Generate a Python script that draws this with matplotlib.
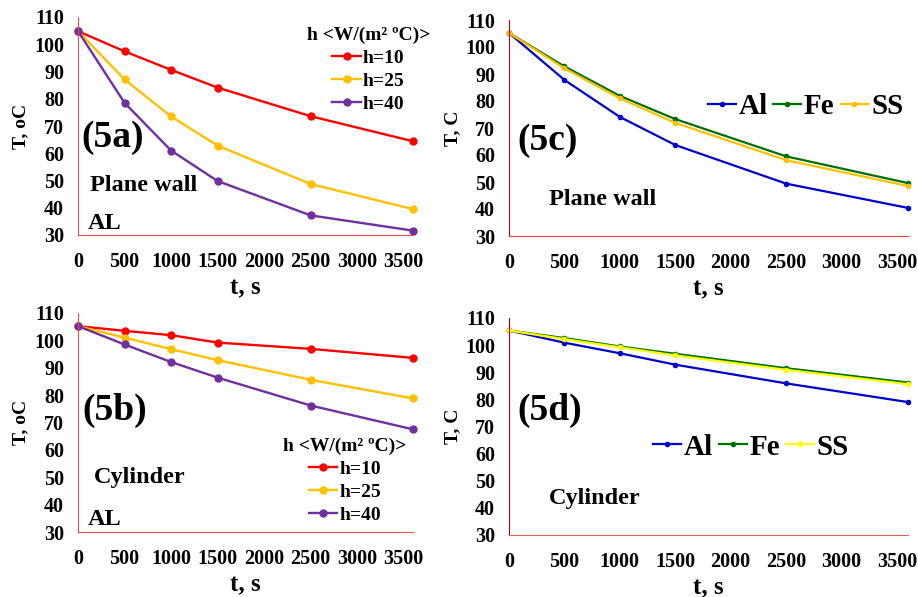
import numpy as np
import matplotlib
matplotlib.use("Agg")
import matplotlib.pyplot as plt

plt.rcParams['font.family'] = ['Liberation Serif', 'DejaVu Serif']
plt.rcParams['font.weight'] = 'bold'

# --- Data ---
t = [0, 500, 1000, 1500, 2500, 3600]

# (5a) plane wall, aluminium, three h values
wall_h10 = [104.8, 97.4, 90.6, 84.1, 73.6, 64.4]
wall_h25 = [104.8, 87.1, 73.5, 62.8, 48.7, 39.5]
wall_h40 = [104.8, 78.5, 61.0, 49.8, 37.2, 31.6]

# (5b) cylinder, aluminium, three h values
cyl_h10 = [105.2, 103.5, 101.9, 99.2, 96.9, 93.6]
cyl_h25 = [105.2, 101.0, 96.8, 92.8, 85.6, 78.8]
cyl_h40 = [105.2, 98.5, 92.1, 86.4, 76.2, 67.5]

# (5c) plane wall, three materials
wall_al = [105.2, 87.8, 74.1, 63.7, 49.4, 40.4]
wall_fe = [105.2, 92.8, 81.9, 73.3, 59.5, 49.6]
wall_ss = [105.2, 92.1, 81.0, 71.9, 58.1, 48.5]

# (5d) cylinder, three materials
cyl_al = [105.4, 100.9, 97.0, 92.8, 85.9, 79.0]
cyl_fe = [105.4, 102.6, 99.5, 96.8, 91.5, 86.2]
cyl_ss = [105.4, 102.2, 99.2, 96.2, 90.9, 85.6]

h_labels = ['h=10', 'h=25', 'h=40']
mat_labels = ['Al', 'Fe', 'SS']
x_ticks = [0, 500, 1000, 1500, 2000, 2500, 3000, 3500]
y_ticks = [30, 40, 50, 60, 70, 80, 90, 100, 110]

H_COLORS = ['#ff0000', '#ffc000', '#7030a0']
M_COLORS = ['#0000cc', '#007000', '#ffc000']
M_COLORS_D = ['#0000cc', '#007000', '#ffff00']

W, H = 918, 597
fig = plt.figure(figsize=(W / 100, H / 100), dpi=100)


def px_axes(left, top, right, bottom):
    return fig.add_axes([left / W, (H - bottom) / H, (right - left) / W, (bottom - top) / H])


def style_axes(ax, left_color, bottom_color, ylabel, ylabel_x):
    ax.set_xlim(0, 3600)
    ax.set_ylim(30, 110)
    ax.set_xticks(x_ticks)
    ax.set_yticks(y_ticks)
    ax.tick_params(length=0, labelsize=14.5)
    ax.tick_params(axis='x', pad=12)
    ax.tick_params(axis='y', pad=10)
    for lab in ax.get_xticklabels() + ax.get_yticklabels():
        lab.set_fontweight('bold')
    ax.spines['top'].set_visible(False)
    ax.spines['right'].set_visible(False)
    ax.spines['left'].set_color(left_color)
    ax.spines['bottom'].set_color(bottom_color)
    ax.set_xlabel('t, s', fontsize=18, fontweight='bold', labelpad=3)
    ax.set_ylabel(ylabel, fontsize=14, fontweight='bold')
    ax.yaxis.set_label_coords(ylabel_x, 0.5)
    ax.set_facecolor('none')


def h_legend(ax, anchor):
    leg = ax.legend(title='h <W/(m² ºC)>', loc='upper right', bbox_to_anchor=anchor,
                    frameon=False, fontsize=14, handlelength=1.45, handletextpad=0.1,
                    labelspacing=0.28, borderpad=0.0)
    leg.get_title().set_fontsize(14)
    leg.get_title().set_fontweight('bold')
    return leg


def mat_legend(ax, loc, anchor):
    ax.legend(loc=loc, bbox_to_anchor=anchor, ncol=3, frameon=False,
              fontsize=21, handlelength=0.95, handletextpad=0.1, columnspacing=0.2,
              borderpad=0.0)


def label(ax, x, y, s, size):
    ax.text(x, y, s, transform=ax.transAxes, fontsize=size, fontweight='bold', va='center')


# (5a)
ax_a = px_axes(78, 17, 413, 235)
for ys, c, lab in zip([wall_h10, wall_h25, wall_h40], H_COLORS, h_labels):
    ax_a.plot(t, ys, color=c, lw=1.7, marker='o', ms=5, label=lab, clip_on=False)
style_axes(ax_a, '#e05050', '#e05050', 'T, oC', -0.145)
label(ax_a, 0.01, 0.445, '(5a)', 27)
label(ax_a, 0.036, 0.225, 'Plane wall', 17.5)
label(ax_a, 0.03, 0.055, 'AL', 17.5)
h_legend(ax_a, (1.08, 1.0))

# (5b)
ax_b = px_axes(78, 313, 413, 532)
for ys, c, lab in zip([cyl_h10, cyl_h25, cyl_h40], H_COLORS, h_labels):
    ax_b.plot(t, ys, color=c, lw=1.7, marker='o', ms=5, label=lab, clip_on=False)
style_axes(ax_b, '#e05050', '#e05050', 'T, oC', -0.145)
label(ax_b, 0.012, 0.557, '(5b)', 27)
label(ax_b, 0.048, 0.251, 'Cylinder', 17.5)
label(ax_b, 0.03, 0.055, 'AL', 17.5)
h_legend(ax_b, (1.01, 0.475))

# (5c)
ax_c = px_axes(509, 20, 908, 236)
for ys, c, lab in zip([wall_al, wall_fe, wall_ss], M_COLORS, mat_labels):
    ax_c.plot(t, ys, color=c, lw=1.6, marker='o', ms=3, label=lab, clip_on=False)
style_axes(ax_c, '#c00000', '#e04040', 'T, C', -0.12)
label(ax_c, 0.022, 0.444, '(5c)', 27)
label(ax_c, 0.1, 0.167, 'Plane wall', 17.5)
mat_legend(ax_c, 'center right', (1.025, 0.6))

# (5d)
ax_d = px_axes(509, 318, 908, 535)
for ys, c, lab in zip([cyl_al, cyl_fe, cyl_ss], M_COLORS_D, mat_labels):
    ax_d.plot(t, ys, color=c, lw=1.6, marker='o', ms=3, label=lab, clip_on=False)
style_axes(ax_d, '#a00000', '#e06060', 'T, C', -0.12)
label(ax_d, 0.022, 0.576, '(5d)', 27)
label(ax_d, 0.1, 0.166, 'Cylinder', 17.5)
mat_legend(ax_d, 'center left', (0.325, 0.405))

fig.savefig('out.png', dpi=100)
